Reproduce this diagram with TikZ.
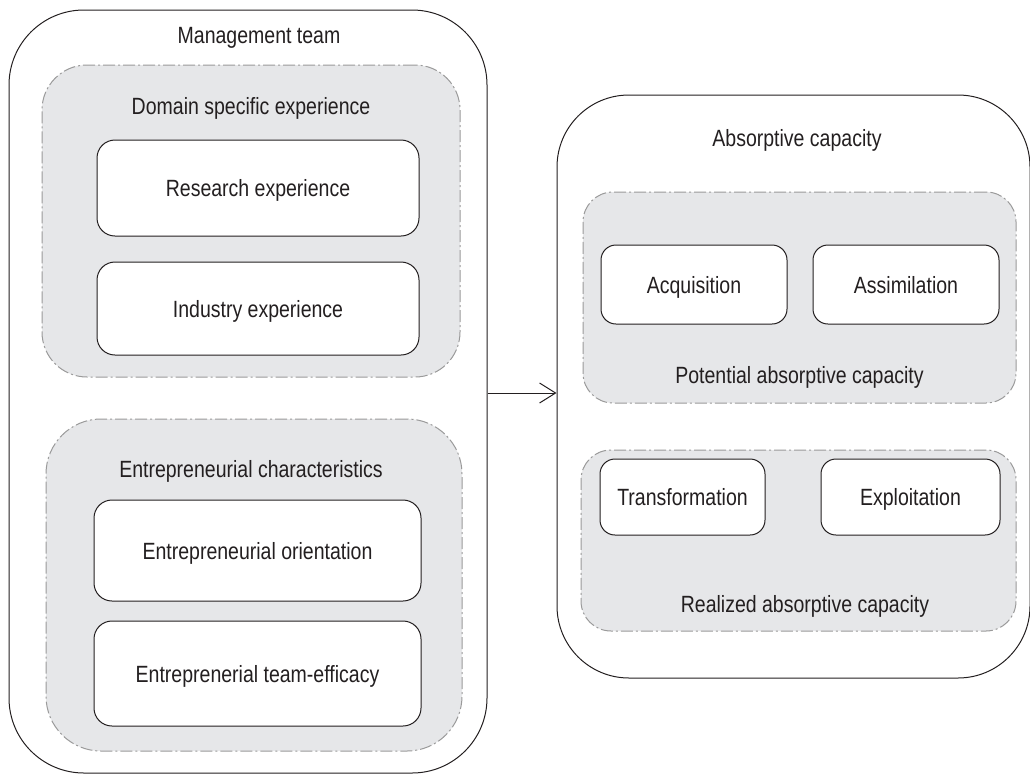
\documentclass[tikz,border=0pt]{standalone}
\usepackage{fontspec}
\setmainfont{Liberation Sans}[FakeStretch=0.83]
\usetikzlibrary{arrows.meta}
\definecolor{grayfill}{HTML}{E6E7E9}
\definecolor{dashgray}{HTML}{9A9A9A}
\definecolor{ink}{HTML}{231F20}
\tikzset{
  outerbox/.style={draw=ink, line width=1pt, rounded corners=75pt, inner sep=0pt},
  grouparea/.style={draw=dashgray, fill=grayfill, line width=1pt,
    dash pattern=on 12pt off 3pt on 2pt off 3pt, inner sep=0pt},
  itembox/.style={draw=ink, fill=white, line width=1pt, rounded corners=18pt,
    inner sep=0pt, text=ink, text height=17pt, text depth=0pt,
    font=\fontsize{23.5}{28}\selectfont},
  lbl/.style={anchor=base, inner sep=0pt, text=ink, font=\fontsize{23.5}{28}\selectfont}
}
\begin{document}
\begin{tikzpicture}[x=1pt,y=-1pt]
\useasboundingbox (0,0) rectangle (1030,774);
% outer boxes
\node[outerbox, minimum width=478pt, minimum height=763pt] (left) at (248,391.5) {};
\node[outerbox, minimum width=473pt, minimum height=583pt, rounded corners=72pt] (right) at (793.5,386.5) {};
% group areas
\node[grouparea, rounded corners=45pt, minimum width=418pt, minimum height=312pt] (dom) at (251,221) {};
\node[grouparea, rounded corners=55pt, minimum width=416pt, minimum height=332pt] (ent) at (254,585) {};
\node[grouparea, rounded corners=30pt, minimum width=433pt, minimum height=211pt] (pot) at (799.5,297.5) {};
\node[grouparea, rounded corners=30pt, minimum width=435pt, minimum height=181pt] (rea) at (798.5,540.5) {};
% labels
\node[lbl] (lmt) at (259,43) {Management team};
\node[lbl] (ldom) at (251,114) {Domain specific experience};
\node[lbl] (lent) at (251,477) {Entrepreneurial characteristics};
\node[lbl] (lac) at (797,146) {Absorptive capacity};
\node[lbl] (lpot) at (799.5,383) {Potential absorptive capacity};
\node[lbl] (lrea) at (805,612) {Realized absorptive capacity};
% items
\node[itembox, minimum width=322pt, minimum height=96pt] (res) at (258,188) {Research experience};
\node[itembox, minimum width=322pt, minimum height=93pt] (ind) at (258,308.5) {Industry experience};
\node[itembox, minimum width=327pt, minimum height=101pt] (eo) at (257.5,550.5) {Entrepreneurial orientation};
\node[itembox, minimum width=327pt, minimum height=105pt] (ete) at (257.5,673.5) {Entreprenerial team-efficacy};
\node[itembox, rounded corners=15pt, minimum width=186pt, minimum height=79pt] (acq) at (694,284.5) {Acquisition};
\node[itembox, rounded corners=15pt, minimum width=186pt, minimum height=79pt] (ass) at (906,284.5) {Assimilation};
\node[itembox, rounded corners=15pt, minimum width=165pt, minimum height=76pt] (tra) at (682.5,497) {Transformation};
\node[itembox, rounded corners=15pt, minimum width=179pt, minimum height=76pt] (exp) at (910.5,497) {Exploitation};
% arrow
\coordinate (ay) at (0,393);
\draw[draw=ink, line width=1pt, -{Straight Barb[length=16pt,width=20pt,line width=1pt]}] (left.east |- ay) -- (right.west |- ay);
\end{tikzpicture}
\end{document}
